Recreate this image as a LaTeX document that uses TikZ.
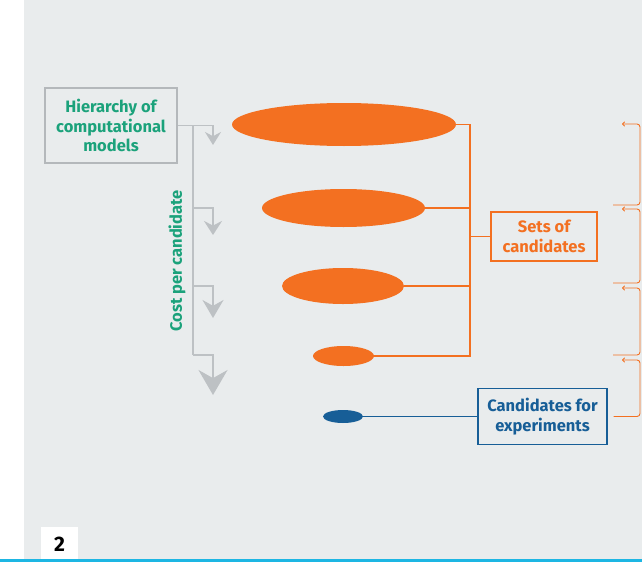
\documentclass[tikz,border=0pt]{standalone}
\usepackage{fontspec}
\setmainfont{Fira Sans}
\usetikzlibrary{shapes.geometric, arrows.meta, positioning, calc}
\definecolor{pagegrey}{HTML}{E9ECED}
\definecolor{arrowgrey}{HTML}{BDC1C4}
\definecolor{framegrey}{HTML}{B4B8BB}
\definecolor{hgreen}{HTML}{1BA27B}
\definecolor{horange}{HTML}{F37021}
\definecolor{hblue}{HTML}{175E97}
\definecolor{rulecyan}{HTML}{1DB6E3}

\begin{document}
\begin{tikzpicture}[x=1pt, y=-1pt, font=\bfseries\fontsize{16.5}{19.5}\selectfont,
    gline/.style={arrowgrey, line width=1.6pt},
    oline/.style={horange, line width=1.1pt},
    blob/.style={ellipse, fill=horange, inner sep=0pt},
    label box/.style={draw, line width=1.1pt, align=center, inner sep=0pt}]
    \useasboundingbox (0,0) rectangle (642,562);
    \fill[pagegrey] (24,0) rectangle (642,559);
    \fill[rulecyan] (0,559) rectangle (642,562);
    \fill[white] (41,527) rectangle (78,559);
    \node[font=\bfseries\fontsize{21}{24}\selectfont] (page) at (59.5,544.5) {2};

    \node[label box, draw=framegrey, text=hgreen, minimum width=132, minimum height=75] (hier) at (111,125.5) {Hierarchy of\\computational\\models};
    \node[text=hgreen, rotate=90] (cost) at (177,261) {Cost per candidate};
    \coordinate (trunk) at (193,125.5);
    \coordinate (g1) at (213,145);
    \coordinate (g2) at (213,235);
    \coordinate (g3) at (213,318);
    \coordinate (g4) at (213,395);
    \draw[gline, -{Stealth[length=13pt, width=16pt]}] (hier.east) -| (g1);
    \draw[gline] (trunk) -- (193,355);
    \draw[gline, -{Stealth[length=14pt, width=18pt]}] (193,208) -| (g2);
    \draw[gline, -{Stealth[length=18pt, width=21pt]}] (193,286) -| (g3);
    \draw[gline, -{Stealth[length=25pt, width=29pt]}] (193,355) -| (g4);

    \node[blob, minimum width=224, minimum height=43] (e1) at (344,124.5) {};
    \node[blob, minimum width=163, minimum height=38] (e2) at (343.5,208) {};
    \node[blob, minimum width=122, minimum height=36] (e3) at (343,286) {};
    \node[blob, minimum width=61, minimum height=20] (e4) at (343.5,356) {};
    \node[ellipse, fill=hblue, inner sep=0pt, minimum width=40, minimum height=13] (e5) at (343,416.5) {};

    \coordinate (bus) at (470,236.5);
    \node[label box, draw=horange, text=horange, minimum width=106, minimum height=49] (sets) at (544,236.5) {Sets of\\candidates};
    \node[label box, draw=hblue, text=hblue, minimum width=129, minimum height=56] (cand) at (542.5,416.5) {Candidates for\\experiments};
    \draw[oline] (e1.east) -- (e1.east -| bus) -- (e4.east -| bus) -- (e4.east);
    \draw[oline] (e2.east) -- (e2.east -| bus);
    \draw[oline] (e3.east) -- (e3.east -| bus);
    \draw[oline] (bus) -- (sets.west);
    \draw[hblue, line width=1.1pt] (e5.east) -- (cand.west);

    \coordinate (f1) at (622,124);
    \coordinate (f2) at (622,209);
    \coordinate (f3) at (622,288);
    \coordinate (f4) at (622,360);
    \draw[oline, line width=0.9pt, rounded corners=3pt, -{To[length=3pt, width=5pt]}] (613,205) -| (640,124) -- (f1);
    \draw[oline, line width=0.9pt, rounded corners=3pt, -{To[length=3pt, width=5pt]}] (613,283) -| (640,209) -- (f2);
    \draw[oline, line width=0.9pt, rounded corners=3pt, -{To[length=3pt, width=5pt]}] (613,355) -| (640,288) -- (f3);
    \draw[oline, line width=0.9pt, rounded corners=3pt, -{To[length=3pt, width=5pt]}] ([xshift=6pt]cand.east) -| (640,360) -- (f4);
\end{tikzpicture}
\end{document}
